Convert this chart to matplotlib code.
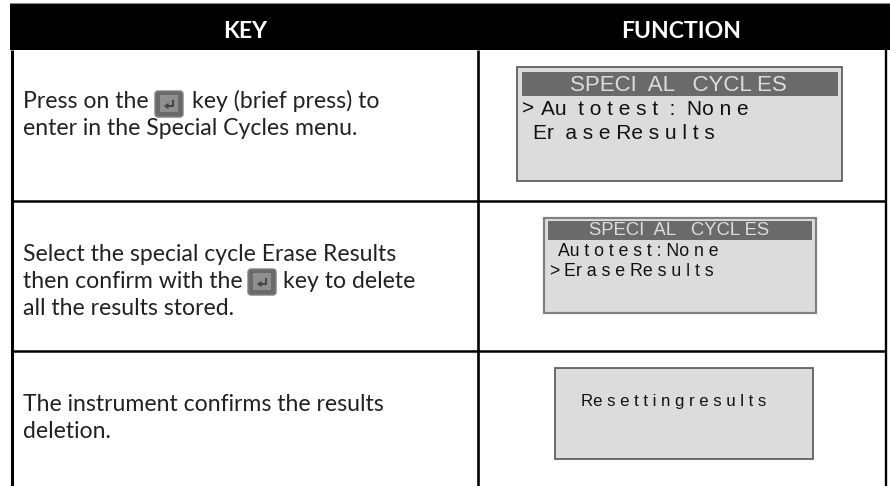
#!/usr/bin/env python3
"""Key / function table with the display screens of the instrument."""

import matplotlib
matplotlib.use('Agg')
import matplotlib.pyplot as plt
from matplotlib.patches import Rectangle, FancyBboxPatch

# Table texts
header_labels = ['KEY', 'FUNCTION']
row1_text = ['Press on the', 'key (brief press) to', 'enter in the Special Cycles menu.']
row2_text = ['Select the special cycle Erase Results', 'then confirm with the', 'key to delete',
             'all the results stored.']
row3_text = ['The instrument confirms the results', 'deletion.']

# Screen texts, spaced out as on the display
screen_title = 'SPECI  AL   CYCL ES'
screen1_lines = ['>', 'Au  t o t e s t  :  No n e', 'Er  a s e Re s u l t s']
screen2_lines = ['Au t o t e s t : No n e', '>', 'Er a s e Re s u l t s']
screen3_lines = ['Re s e t t i n g r e s u l t s']

BODY_FONT = 'Lato'
LCD_FONT = 'Liberation Sans'
TEXT_COL = '#222222'
LCD_BG = '#dcdcdc'
LCD_TITLE = '#6a6a6a'


def body(ax, x, y, s):
    ax.text(x, y, s, fontsize=16.6, family=BODY_FONT, color=TEXT_COL, va='baseline', ha='left')


def lcd(ax, x, y, s, size, color='#111111'):
    ax.text(x, y, s, fontsize=size, family=LCD_FONT, color=color, va='baseline', ha='left')


def draw_key_icon(ax, x, y):
    """Small grey enter key, 30x28 px."""
    ax.add_patch(FancyBboxPatch((x + 2, y + 2), 26, 24, boxstyle='round,pad=1,rounding_size=3',
                                fc='#6a6a6a', ec='#828282', lw=1))
    ax.add_patch(Rectangle((x + 6, y + 5), 18, 17, fc='#8f8f8f', ec='none'))
    ax.plot([x + 19, x + 19, x + 12], [y + 11, y + 16, y + 16], color='#474747', lw=1.5)
    ax.plot([x + 14, x + 11, x + 14], [y + 14, y + 16, y + 18], color='#474747', lw=1.1)


def draw_screen(ax, x0, y0, x1, y1, edge='#555555', lw=1.2):
    ax.add_patch(Rectangle((x0, y0), x1 - x0, y1 - y0, fc=LCD_BG, ec=edge, lw=lw))


def main():
    fig = plt.figure(figsize=(8.9, 4.86), dpi=100)
    ax = fig.add_axes([0, 0, 1, 1])
    ax.set_xlim(0, 890)
    ax.set_ylim(486, 0)
    ax.axis('off')

    # Header band
    ax.add_patch(Rectangle((10, 4), 880, 46, fc='black', ec='none'))
    ax.plot([10, 890], [3.5, 3.5], color='#888888', lw=0.8)
    ax.text(245, 38, header_labels[0], fontsize=16.6, family=BODY_FONT, fontweight='bold',
            color='white', ha='center', va='baseline')
    ax.text(681, 38, header_labels[1], fontsize=16.6, family=BODY_FONT, fontweight='bold',
            color='white', ha='center', va='baseline')

    # Table rules
    ax.plot([12, 12], [50, 486], color='black', lw=2.2, solid_capstyle='butt')
    ax.plot([478, 478], [50, 486], color='black', lw=1.9, solid_capstyle='butt')
    ax.plot([886, 886], [50, 486], color='black', lw=1.7, solid_capstyle='butt')
    ax.plot([12, 886], [201, 201], color='black', lw=1.8, solid_capstyle='butt')
    ax.plot([12, 886], [351, 351], color='black', lw=1.8, solid_capstyle='butt')

    # Row 1 text
    body(ax, 23, 108, row1_text[0])
    draw_key_icon(ax, 154, 90)
    body(ax, 192, 108, row1_text[1])
    body(ax, 23, 135, row1_text[2])

    # Row 2 text
    body(ax, 23, 261, row2_text[0])
    body(ax, 23, 288, row2_text[1])
    draw_key_icon(ax, 247, 268)
    body(ax, 283, 288, row2_text[2])
    body(ax, 23, 315, row2_text[3])

    # Row 3 text
    body(ax, 23, 411, row3_text[0])
    body(ax, 23, 438, row3_text[1])

    # Screen 1
    draw_screen(ax, 517, 67, 842, 181)
    ax.add_patch(Rectangle((522, 72), 316, 24, fc=LCD_TITLE, ec='none'))
    lcd(ax, 570, 91, screen_title, 16, color='#dddddd')
    lcd(ax, 522, 115, screen1_lines[0], 15)
    lcd(ax, 541, 115, screen1_lines[1], 15)
    lcd(ax, 533, 139, screen1_lines[2], 15)

    # Screen 2
    draw_screen(ax, 544, 218, 816, 313, edge='#808080', lw=1.6)
    ax.add_patch(Rectangle((548, 221), 264, 19, fc=LCD_TITLE, ec='none'))
    lcd(ax, 589, 235, screen_title, 13.3, color='#dddddd')
    lcd(ax, 558, 256, screen2_lines[0], 12.7)
    lcd(ax, 549, 276, screen2_lines[1], 12.7)
    lcd(ax, 564, 276, screen2_lines[2], 12.8)

    # Screen 3
    draw_screen(ax, 555, 368, 813, 459)
    lcd(ax, 581, 406, screen3_lines[0], 12.1)

    fig.savefig('out.png', dpi=100, facecolor='white')
    plt.close(fig)


if __name__ == '__main__':
    main()
